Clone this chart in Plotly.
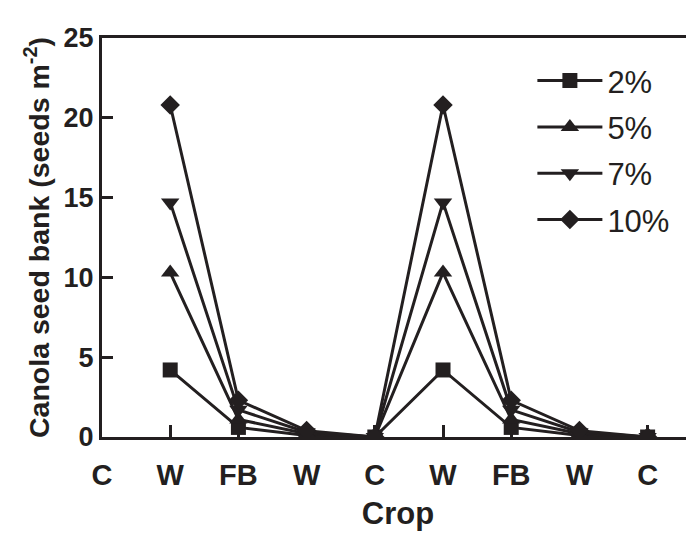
import plotly.graph_objects as go

crops = ["C", "W", "FB", "W", "C", "W", "FB", "W", "C"]
positions = [0, 1, 2, 3, 4, 5, 6, 7, 8]
data_pos = [1, 2, 3, 4, 5, 6, 7, 8]

s2 = [4.2, 0.6, 0.1, 0.0, 4.2, 0.6, 0.1, 0.0]
s5 = [10.3, 1.1, 0.2, 0.0, 10.3, 1.1, 0.2, 0.0]
s7 = [14.7, 1.7, 0.3, 0.0, 14.7, 1.7, 0.3, 0.0]
s10 = [20.8, 2.3, 0.4, 0.0, 20.8, 2.3, 0.4, 0.0]

names = ["2%", "5%", "7%", "10%"]
series = [s2, s5, s7, s10]
symbols = ["square", "triangle-up", "triangle-down", "diamond"]
sizes = [15, 16, 16, 15]

ink = "#231f20"
font_fam = "Liberation Sans, Arial"
fig = go.Figure()
for nm, ys, sym, sz in zip(names, series, symbols, sizes):
    fig.add_trace(go.Scatter(
        x=data_pos, y=ys, name=nm, mode="lines+markers",
        line=dict(color=ink, width=3),
        marker=dict(symbol=sym, size=sz, color=ink),
        legendgroup=nm,
    ))

# page body has an 8px margin; size figure so it ends at the window edge
fig.update_layout(
    width=686, height=528,
    margin=dict(l=94, r=0, t=30, b=99, autoexpand=False),
    plot_bgcolor="white", paper_bgcolor="white",
    font=dict(family=font_fam, color=ink),
    showlegend=True,
    legend=dict(
        x=0.727, y=0.96, xanchor="left", yanchor="top",
        font=dict(size=31, family=font_fam, color=ink),
        bgcolor="rgba(0,0,0,0)", itemwidth=65, tracegroupgap=3,
    ),
)
fig.update_xaxes(
    range=[0, 8.68], tickmode="array", tickvals=positions, ticktext=crops,
    showline=True, linecolor=ink, linewidth=3, mirror=True,
    ticks="inside", ticklen=12, tickwidth=3, tickcolor=ink,
    tickfont=dict(size=29, family=font_fam, color=ink, weight="bold"),
    ticklabelstandoff=10, automargin=False,
    showgrid=False, zeroline=False,
    title=dict(text="<b>Crop</b>", font=dict(size=31), standoff=13),
)
fig.update_yaxes(
    range=[0, 25], tickvals=[0, 5, 10, 15, 20, 25],
    showline=True, linecolor=ink, linewidth=3,
    ticks="inside", ticklen=11, tickwidth=3, tickcolor=ink,
    tickfont=dict(size=27, family=font_fam, color=ink, weight="bold"),
    ticklabelstandoff=0, automargin=False,
    showgrid=False, zeroline=False,
    title=dict(text="<b>Canola seed bank (seeds m<sup>-2</sup>)</b>", font=dict(size=28.5), standoff=6),
)

fig.write_html("out.html")
